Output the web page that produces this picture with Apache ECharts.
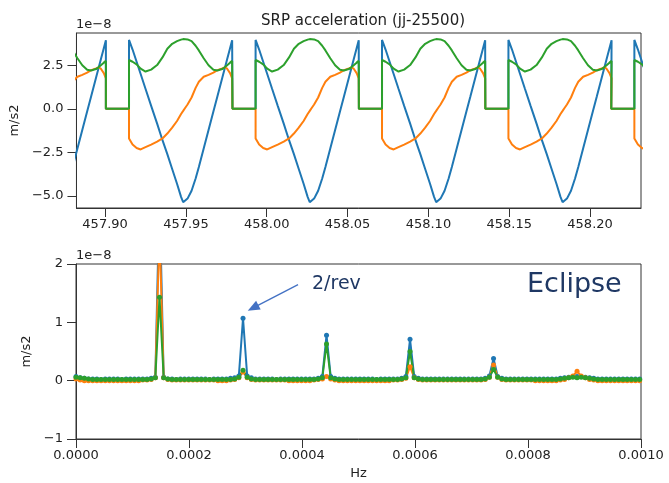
<!DOCTYPE html>
<html><head><meta charset="utf-8">
<script src="https://cdn.jsdelivr.net/npm/echarts@6/dist/echarts.min.js"></script>
<style>html,body{margin:0;padding:0;background:#fff}#c{width:669px;height:483px}</style>
</head><body><div id="c"></div>
<script>
// ---------- Top panel: SRP acceleration time series (units of 1e-8 m/s2) ----------
const cycleEntryDays = [457.8224, 457.9005, 457.9788, 458.0570, 458.1352, 458.2131];
const profileTau = [0, 0, 0.0143, 0.0143, 0.0165, 0.019, 0.0215, 0.0245, 0.028, 0.0317,
  0.035, 0.038, 0.041, 0.044, 0.0465, 0.0478, 0.049, 0.0505, 0.053, 0.0555, 0.0575,
  0.0605, 0.0635, 0.0665, 0.069, 0.072, 0.0735, 0.075, 0.0768, 0.0781];
const blueProfile = [3.95, 0, 0, 3.95, 3.4, 2.7, 2.0, 1.15, 0.17, -0.85,
  -1.8, -2.6, -3.45, -4.3, -5.05, -5.36, -5.36, -5.15, -4.7, -4.0, -3.34,
  -2.28, -1.22, -0.16, 0.72, 1.78, 2.31, 2.84, 3.47, 3.93];
const orangeProfile = [1.75, 0, 0, -1.7, -2.05, -2.25, -2.33, -2.2, -2.05, -1.88,
  -1.7, -1.42, -1.08, -0.7, -0.3, -0.12, 0.05, 0.25, 0.65, 1.2, 1.55,
  1.84, 1.95, 2.08, 2.22, 2.32, 2.38, 2.3, 2.05, 1.75];
const greenProfile = [2.75, 0, 0, 2.8, 2.7, 2.55, 2.3, 2.14, 2.25, 2.51,
  2.95, 3.45, 3.73, 3.88, 3.97, 4.0, 4.0, 3.98, 3.88, 3.62, 3.35,
  2.9, 2.5, 2.24, 2.2, 2.28, 2.38, 2.5, 2.65, 2.75];
const topXTicks = [457.90, 457.95, 458.00, 458.05, 458.10, 458.15, 458.20];
const topYTicks = [-5.0, -2.5, 0.0, 2.5];

// ---------- Bottom panel: spectrum (units of 1e-8 m/s2) ----------
const freqStep = 0.00000739;
const blueSpec = [
  0.07,0.05,0.04,0.03,0.03,0.03,0.02,0.03,0.03,0.03,
  0.03,0.02,0.03,0.03,0.03,0.03,0.03,0.03,0.04,0.06,
  3.2,0.06,0.03,0.03,0.02,0.03,0.03,0.03,0.03,0.03,
  0.03,0.03,0.02,0.03,0.03,0.03,0.03,0.04,0.05,0.08,
  1.07,0.08,0.05,0.03,0.03,0.03,0.03,0.03,0.02,0.03,
  0.03,0.03,0.03,0.03,0.03,0.03,0.03,0.03,0.04,0.07,
  0.78,0.07,0.04,0.03,0.03,0.03,0.03,0.03,0.03,0.03,
  0.03,0.03,0.02,0.03,0.03,0.03,0.03,0.03,0.04,0.07,
  0.71,0.07,0.04,0.03,0.03,0.03,0.03,0.03,0.03,0.03,
  0.03,0.03,0.03,0.03,0.03,0.03,0.03,0.03,0.04,0.08,
  0.38,0.07,0.04,0.03,0.03,0.03,0.03,0.03,0.03,0.03,
  0.03,0.03,0.03,0.03,0.03,0.03,0.04,0.05,0.06,0.07,
  0.07,0.07,0.06,0.05,0.04,0.03,0.03,0.03,0.03,0.03,
  0.03,0.03,0.03,0.03,0.03,0.03];
const orangeSpec = [
  0.03,0.01,0.0,0.0,0.0,0.0,0.0,0.0,0.0,0.0,
  0.0,0.0,0.0,0.0,0.0,0.0,0.01,0.01,0.02,0.05,
  2.6,0.05,0.02,0.01,0.01,0.01,0.01,0.01,0.01,0.01,
  0.01,0.01,0.01,0.01,0.0,0.0,0.0,0.01,0.02,0.05,
  0.15,0.05,0.02,0.01,0.01,0.01,0.01,0.01,0.01,0.01,
  0.01,0.0,0.0,0.0,0.0,0.0,0.0,0.01,0.02,0.03,
  0.07,0.03,0.01,0.0,0.0,0.0,0.0,0.0,0.0,0.0,
  0.0,0.0,0.0,0.0,0.0,0.0,0.01,0.01,0.02,0.04,
  0.24,0.05,0.02,0.01,0.01,0.01,0.01,0.01,0.01,0.01,
  0.01,0.01,0.01,0.01,0.01,0.01,0.01,0.01,0.02,0.06,
  0.27,0.06,0.02,0.01,0.01,0.01,0.01,0.01,0.01,0.01,
  0.0,0.0,0.0,0.0,0.0,0.0,0.01,0.02,0.05,0.08,
  0.16,0.08,0.05,0.02,0.01,0.0,0.0,0.0,0.0,0.0,
  0.0,0.0,0.0,0.0,0.0,0.0];
const greenSpec = [
  0.06,0.05,0.04,0.03,0.02,0.02,0.02,0.02,0.02,0.02,
  0.02,0.02,0.02,0.02,0.02,0.02,0.02,0.02,0.03,0.05,
  1.43,0.05,0.03,0.02,0.02,0.02,0.02,0.02,0.02,0.02,
  0.02,0.02,0.02,0.02,0.02,0.02,0.02,0.02,0.03,0.06,
  0.18,0.06,0.03,0.02,0.02,0.02,0.02,0.02,0.02,0.02,
  0.02,0.02,0.02,0.02,0.02,0.02,0.02,0.02,0.03,0.05,
  0.63,0.05,0.03,0.02,0.02,0.02,0.02,0.02,0.02,0.02,
  0.02,0.02,0.02,0.02,0.02,0.02,0.02,0.02,0.03,0.05,
  0.5,0.05,0.03,0.02,0.02,0.02,0.02,0.02,0.02,0.02,
  0.02,0.02,0.02,0.02,0.02,0.02,0.02,0.02,0.03,0.06,
  0.19,0.06,0.03,0.02,0.02,0.02,0.02,0.02,0.02,0.02,
  0.02,0.02,0.02,0.02,0.02,0.02,0.03,0.04,0.05,0.06,
  0.05,0.06,0.05,0.04,0.03,0.02,0.02,0.02,0.02,0.02,
  0.02,0.02,0.02,0.02,0.02,0.02];
const arrowFrom = [0.000393, 1.647];
const arrowTo = [0.0003134, 1.247];

const COLORS = ['#1f77b4', '#ff7f0e', '#2ca02c'];
const FONT = 'DejaVu Sans';
const minus = s => s.replace('-', '\u2212');

function buildTimeSeries(profile) {
  const out = [];
  cycleEntryDays.forEach(te => {
    profileTau.forEach((tau, i) => out.push([te + tau, profile[i]]));
  });
  return out;
}
function buildSpec(vals) {
  return vals.map((v, i) => [i * freqStep, v]);
}

const axisLabelStyle = {color: '#222', fontFamily: FONT, fontSize: 13};
const tick = extra => Object.assign({show: true, inside: false, length: 9, lineStyle: {color: '#333', width: 1}}, extra || {});
const axisLine = () => ({show: true, onZero: false, lineStyle: {color: '#333', width: 1}});

const chart = echarts.init(document.getElementById('c'), null, {renderer: 'canvas'});
chart.setOption({
  animation: false,
  backgroundColor: '#fff',
  title: {
    text: 'SRP acceleration (jj-25500)', left: 358, top: 9, textAlign: 'center',
    textStyle: {fontFamily: FONT, fontSize: 15, fontWeight: 'normal', color: '#222'}
  },
  grid: [
    {left: 76, top: 33, width: 565, height: 175, show: true, borderColor: '#333', borderWidth: 1, backgroundColor: 'transparent'},
    {left: 76, top: 264, width: 565, height: 175, show: true, borderColor: '#333', borderWidth: 1, backgroundColor: 'transparent'}
  ],
  xAxis: [
    {type: 'value', gridIndex: 0, min: 457.8823, max: 458.2315, position: 'bottom',
     axisLine: axisLine(), splitLine: {show: false},
     axisTick: tick({customValues: topXTicks}),
     axisLabel: Object.assign({customValues: topXTicks, margin: 10, formatter: v => v.toFixed(2)}, axisLabelStyle)},
    {type: 'value', gridIndex: 1, min: 0, max: 0.001, interval: 0.0002, position: 'bottom',
     name: 'Hz', nameLocation: 'middle', nameGap: 28,
     nameTextStyle: {fontFamily: FONT, fontSize: 13, color: '#222'},
     axisLine: axisLine(), splitLine: {show: false}, axisTick: tick(),
     axisLabel: Object.assign({margin: 10, formatter: v => v.toFixed(4), showMinLabel: true, showMaxLabel: true}, axisLabelStyle)}
  ],
  yAxis: [
    {type: 'value', gridIndex: 0, min: -5.69, max: 4.35, position: 'left',
     name: 'm/s2', nameLocation: 'middle', nameGap: 50, nameRotate: 90,
     nameTextStyle: {fontFamily: FONT, fontSize: 13, color: '#222'},
     axisLine: axisLine(), splitLine: {show: false},
     axisTick: tick({customValues: topYTicks}),
     axisLabel: Object.assign({customValues: topYTicks, margin: 13, formatter: v => minus(v.toFixed(1))}, axisLabelStyle)},
    {type: 'value', gridIndex: 1, min: -1, max: 2, interval: 1, position: 'left',
     name: 'm/s2', nameLocation: 'middle', nameGap: 36, nameRotate: 90,
     nameTextStyle: {fontFamily: FONT, fontSize: 13, color: '#222'},
     axisLine: axisLine(), splitLine: {show: false}, axisTick: tick(),
     axisLabel: Object.assign({margin: 13, formatter: v => minus(String(v))}, axisLabelStyle)}
  ],
  graphic: [
    {type: 'text', left: 76, top: 18, style: {text: '1e\u22128', font: '13px "DejaVu Sans"', fill: '#222'}},
    {type: 'text', left: 76, top: 249, style: {text: '1e\u22128', font: '13px "DejaVu Sans"', fill: '#222'}},
    {type: 'text', left: 527, top: 271, style: {text: 'Eclipse', font: '27px "DejaVu Sans"', fill: '#1f3864'}},
    {type: 'text', left: 312, top: 275, style: {text: '2/rev', font: '19px "DejaVu Sans"', fill: '#1f3864'}}
  ],
  series: [
    {type: 'line', xAxisIndex: 0, yAxisIndex: 0, data: buildTimeSeries(blueProfile), showSymbol: false, lineStyle: {width: 2, color: COLORS[0]}, itemStyle: {color: COLORS[0]}},
    {type: 'line', xAxisIndex: 0, yAxisIndex: 0, data: buildTimeSeries(orangeProfile), showSymbol: false, lineStyle: {width: 2, color: COLORS[1]}, itemStyle: {color: COLORS[1]}},
    {type: 'line', xAxisIndex: 0, yAxisIndex: 0, data: buildTimeSeries(greenProfile), showSymbol: false, lineStyle: {width: 2, color: COLORS[2]}, itemStyle: {color: COLORS[2]}},
    {type: 'line', xAxisIndex: 1, yAxisIndex: 1, data: buildSpec(blueSpec), symbol: 'circle', symbolSize: 5, showAllSymbol: true,
     lineStyle: {width: 2, color: COLORS[0]}, itemStyle: {color: COLORS[0]},
     markLine: {silent: true, symbol: ['none', 'triangle'], symbolSize: [10, 12], label: {show: false},
       lineStyle: {color: '#4472c4', width: 1.3, type: 'solid'},
       data: [[{coord: arrowFrom}, {coord: arrowTo}]]}},
    {type: 'line', xAxisIndex: 1, yAxisIndex: 1, data: buildSpec(orangeSpec), symbol: 'circle', symbolSize: 5, showAllSymbol: true,
     lineStyle: {width: 2, color: COLORS[1]}, itemStyle: {color: COLORS[1]}},
    {type: 'line', xAxisIndex: 1, yAxisIndex: 1, data: buildSpec(greenSpec), symbol: 'circle', symbolSize: 5, showAllSymbol: true,
     lineStyle: {width: 2, color: COLORS[2]}, itemStyle: {color: COLORS[2]}}
  ]
});
</script></body></html>
